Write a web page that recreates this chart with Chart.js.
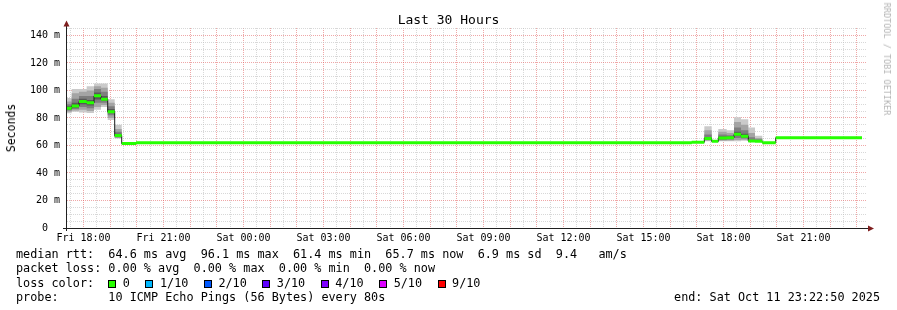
<!DOCTYPE html>
<html>
<head>
<meta charset="utf-8">
<script src="https://cdn.jsdelivr.net/npm/chart.js@4/dist/chart.umd.min.js"></script>
<style>
  html, body { margin: 0; padding: 0; background: #fff; }
  #wrap { position: relative; width: 897px; height: 310px; overflow: hidden;
          font-family: "DejaVu Sans Mono", monospace; color: #000; }
  #c { position: absolute; left: 0; top: 0; }
  .txt { position: absolute; white-space: pre; font-size: 11.8px; line-height: 14px; }
  #title { position: absolute; left: 0; top: 12px; width: 897px; text-align: center;
           font-size: 13px; line-height: 16px; }
  #ylab { position: absolute; left: 11px; top: 128px; font-size: 11.5px; white-space: pre; color: #000;
          transform: translate(-50%, -50%) rotate(-90deg); }
  #mark { position: absolute; left: 887px; top: 59px; font-size: 8.5px; color: #b4b4b4;
          white-space: pre; transform: translate(-50%, -50%) rotate(90deg); }
  .box { display: inline-block; width: 6px; height: 6px; border: 1px solid #000;
         vertical-align: -1px; margin-right: 6.5px; }
  .item { display: inline-block; margin-right: 15.5px; }
</style>
</head>
<body>
<div id="wrap">
  <canvas id="c" width="897" height="310"></canvas>
  <div id="title">Last 30 Hours</div>
  <div id="ylab">Seconds</div>
  <div id="mark">RRDTOOL / TOBI OETIKER</div>
  <div class="txt" style="left:16px; top:247px">median rtt:  64.6 ms avg  96.1 ms max  61.4 ms min  65.7 ms now  6.9 ms sd  9.4   am/s</div>
  <div class="txt" style="left:16px; top:261px">packet loss: 0.00 % avg  0.00 % max  0.00 % min  0.00 % now</div>
  <div class="txt" id="losses" style="left:16px; top:275.5px">loss color:  </div>
  <div class="txt" style="left:16px; top:289.5px">probe:       10 ICMP Echo Pings (56 Bytes) every 80s</div>
  <div class="txt" style="right:17px; top:289.5px">end: Sat Oct 11 23:22:50 2025</div>
</div>
<script>
// minutes after graph start (Fri 17:22:50), one entry per rrd step
const stepStart = [0, 10.6, 27, 44.3, 60.8, 76.5, 91.6, 107.3, 123.1, 155.3, 1405.6,
  1434, 1450.6, 1465.4, 1484.3, 1500.8, 1516.5, 1532.9, 1548, 1564.4, 1594.6];
const dataEnd = 1788.8;

// median rtt in ms
const medianRtt = [87.0, 88.7, 92.0, 91.0, 96.1, 93.6, 84.6, 67.2, 61.4, 62.0, 62.4,
  65.0, 63.0, 65.5, 65.7, 68.1, 66.7, 63.3, 63.0, 62.0, 65.7];

// the 10 pings of each step, sorted low -> high (smoke)
const p1  = [83.5, 84.6, 84, 83.6, 86, 88, 78.5, 65, 61, 61.9, 62.2, 63, 62.5, 63, 63, 63, 63.5, 62.5, 62.5, 61.9, 65.6];
const p2  = [84.5, 85.5, 86, 85, 88, 89.5, 80, 65.5, 61.1, 61.9, 62.3, 63.5, 62.6, 63.5, 63.6, 64, 64.2, 62.7, 62.7, 62, 65.6];
const p3  = [85.5, 86.5, 88, 87, 91, 91, 82, 66, 61.2, 62, 62.3, 64, 62.8, 64, 64.3, 65.5, 65, 62.9, 62.8, 62, 65.7];
const p4  = [86.2, 87.5, 90, 89, 93.5, 92.5, 83.5, 66.5, 61.3, 62, 62.4, 64.5, 62.9, 64.8, 65, 67, 65.8, 63.1, 62.9, 62, 65.7];
const p5  = [86.8, 88.3, 91.5, 90.5, 95.5, 93.2, 84.3, 67, 61.4, 62, 62.4, 64.8, 63, 65.3, 65.5, 67.8, 66.5, 63.2, 63, 62, 65.7];
const p6  = [87.3, 89.0, 92.5, 91.5, 96.5, 94, 85, 67.5, 61.4, 62, 62.4, 65.2, 63, 65.7, 65.9, 68.4, 67, 63.4, 63.1, 62, 65.7];
const p7  = [88.5, 91, 94, 93, 98.5, 96, 86.5, 68.5, 61.5, 62, 62.5, 66, 63.1, 66.5, 66.5, 70, 68.5, 64, 63.5, 62, 65.7];
const p8  = [90, 94, 96, 96, 101, 99, 88.5, 70, 61.6, 62, 62.5, 68, 63.2, 68, 67.5, 73, 71, 66, 64.5, 62, 65.7];
const p9  = [92, 98, 99, 100, 103, 102, 91, 72, 61.8, 62.1, 62.6, 71, 63.4, 70, 69, 77, 75, 69, 65.5, 62, 65.8];
const p10 = [94.5, 101, 101, 103, 105, 105, 93.6, 75, 62.2, 62.1, 62.6, 74, 63.5, 72, 71, 80.5, 79, 73, 67, 62.1, 65.8];

// axis labels
const xTickLabels = ['Fri 18:00', 'Fri 21:00', 'Sat 00:00', 'Sat 03:00', 'Sat 06:00',
  'Sat 09:00', 'Sat 12:00', 'Sat 15:00', 'Sat 18:00', 'Sat 21:00'];
const firstLabelAt = 37.1667;   // Fri 18:00 in minutes after start
const yTickLabels = ['0  ', '20 m', '40 m', '60 m', '80 m', '100 m', '120 m', '140 m'];

// loss legend
const lossLabels = ['0', '1/10', '2/10', '3/10', '4/10', '5/10', '9/10'];
const lossColors = ['#26ff00', '#00b8ff', '#0059ff', '#5e00ff', '#7e00ff', '#dd00ff', '#ff0000'];

// legend boxes
const lossDiv = document.getElementById('losses');
lossLabels.forEach((lab, i) => {
  const s = document.createElement('span');
  s.className = 'item';
  s.innerHTML = '<span class="box" style="background:' + lossColors[i] + '"></span>' + lab;
  lossDiv.appendChild(s);
});

// helpers
function stepPoints(vals) {
  const pts = stepStart.map((x, i) => ({ x: x, y: vals[i] }));
  pts.push({ x: dataEnd, y: vals[vals.length - 1] });
  return pts;
}
function bandPoints(vals) {
  const pts = [];
  stepStart.forEach((x, i) => {
    const end = i < stepStart.length - 1 ? stepStart[i + 1] : dataEnd;
    pts.push({ x: x, y: vals[i] }, { x: end, y: vals[i] }, { x: end, y: null });
  });
  return pts;
}

const pings = [p1, p2, p3, p4, p5, p6, p7, p8, p9, p10];
const shades = ['#cacaca', '#a4a4a4', '#7e7e7e', '#585858', '#323232'];
const datasets = [];
for (let i = 0; i < 5; i++) {
  datasets.push({
    data: stepPoints(pings[i]), stepped: true, borderWidth: 0, borderColor: 'transparent',
    pointRadius: 0, fill: false, order: 10 - i
  });
  datasets.push({
    data: stepPoints(pings[9 - i]), stepped: true, borderWidth: 0, borderColor: 'transparent',
    pointRadius: 0, fill: { target: 2 * i }, backgroundColor: shades[i], order: 10 - i
  });
}
// black median line
datasets.push({
  data: stepPoints(medianRtt), stepped: true, borderWidth: 1, borderColor: '#1a1a1a',
  pointRadius: 0, fill: false, order: 1
});
// loss coloured median band
datasets.push({
  data: bandPoints(medianRtt), borderWidth: 3, borderColor: lossColors[0], borderCapStyle: 'butt',
  pointRadius: 0, fill: false, spanGaps: false, order: 0
});

const majorRed = 'rgba(224,80,80,0.5)';
const minorGray = 'rgba(190,190,190,0.6)';

// axis lines and arrows like rrdtool
const rrdAxes = {
  id: 'rrdAxes',
  afterDraw(chart) {
    const ctx = chart.ctx, a = chart.chartArea;
    ctx.save();
    ctx.strokeStyle = '#202020';
    ctx.lineWidth = 1;
    ctx.beginPath();
    ctx.moveTo(66.5, a.bottom + 3);
    ctx.lineTo(66.5, a.top - 4);
    ctx.moveTo(a.left - 4, 228.5);
    ctx.lineTo(a.right + 2, 228.5);
    ctx.stroke();
    ctx.fillStyle = '#7f1f1f';
    ctx.beginPath();
    ctx.moveTo(66.5, 20.5); ctx.lineTo(63.5, 26.5); ctx.lineTo(69.5, 26.5); ctx.closePath();
    ctx.fill();
    ctx.beginPath();
    ctx.moveTo(874, 228.5); ctx.lineTo(868, 225.5); ctx.lineTo(868, 231.5); ctx.closePath();
    ctx.fill();
    ctx.restore();
  }
};

Chart.defaults.font.family = '"DejaVu Sans Mono", monospace';
Chart.defaults.font.size = 10;
Chart.defaults.color = '#000';

new Chart(document.getElementById('c'), {
  type: 'line',
  data: { datasets: datasets },
  options: {
    responsive: false,
    animation: false,
    layout: { padding: { top: 28, right: 30, left: 0, bottom: 0 } },
    plugins: { legend: { display: false }, tooltip: { enabled: false } },
    scales: {
      x: {
        type: 'linear', min: 0, max: 1800,
        afterFit: (s) => { s.height = 82; },
        afterBuildTicks: (s) => {
          const t = [];
          for (let v = firstLabelAt - 30; v <= 1800; v += 30) t.push({ value: v });
          s.ticks = t;
        },
        grid: {
          drawTicks: false,
          color: (c) => {
            const k = Math.round((c.tick.value - firstLabelAt) / 30);
            return k % 2 === 0 ? majorRed : minorGray;
          }
        },
        border: { display: false, dash: [1, 1] },
        ticks: {
          autoSkip: false, maxRotation: 0, minRotation: 0, padding: 4,
          callback: (v) => {
            const k = Math.round((v - firstLabelAt) / 30);
            return (k >= 0 && k % 6 === 0) ? (xTickLabels[k / 6] || '') : '';
          }
        }
      },
      y: {
        type: 'linear', min: 0, max: 145.45,
        afterFit: (s) => { s.width = 67; },
        afterBuildTicks: (s) => {
          const t = [];
          for (let v = 0; v <= 145; v += 5) t.push({ value: v });
          s.ticks = t;
        },
        grid: {
          drawTicks: false,
          color: (c) => (Math.round(c.tick.value) % 20 === 0 ? majorRed : minorGray)
        },
        border: { display: false, dash: [1, 1] },
        ticks: {
          autoSkip: false, padding: 7,
          callback: (v) => (Math.round(v) % 20 === 0 ? yTickLabels[Math.round(v) / 20] : '')
        }
      }
    }
  },
  plugins: [rrdAxes]
});
</script>
</body>
</html>
